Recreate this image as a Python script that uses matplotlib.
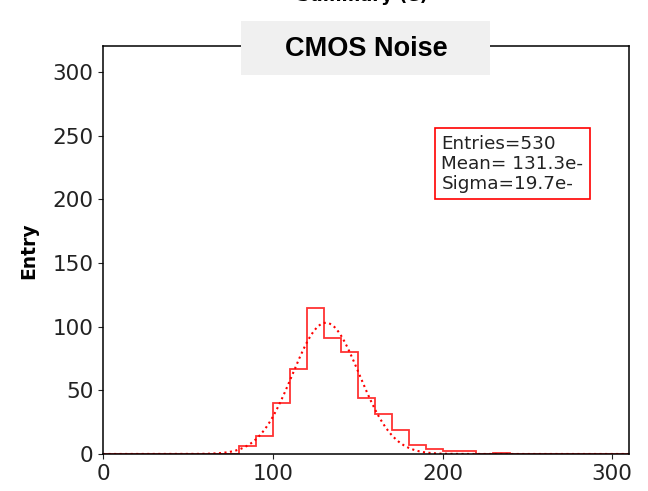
import numpy as np
import matplotlib.pyplot as plt
from matplotlib.patches import Rectangle

# histogram of CMOS noise (e-), 10 e- bins
bin_lo = [80, 90, 100, 110, 120, 130, 140, 150, 160, 170, 180, 190, 200, 210, 220, 230]
counts = [6, 14, 40, 67, 115, 91, 80, 44, 31, 19, 7, 4, 2, 2, 0, 1]
bin_w = 10
x_max = 310

# gaussian fit shown in the stats box
n_entries = 530
mean = 131.3
sigma = 19.7
peak = 103

edges = np.arange(0, x_max + bin_w, bin_w)
h = np.zeros(len(edges) - 1)
for lo, c in zip(bin_lo, counts):
    h[lo // bin_w] = c

fig = plt.figure(figsize=(6.48, 4.91), dpi=100)
ax = fig.add_axes([0.159, 0.0754, 0.812, 0.830])

ax.stairs(h, edges, color='red', lw=1.3, alpha=0.8)
xs = np.linspace(0, x_max, 400)
ax.plot(xs, peak * np.exp(-0.5 * ((xs - mean) / sigma) ** 2), ':', color='red', lw=1.5)

ax.set_xlim(0, x_max)
ax.set_ylim(0, 320)
ax.set_xticks([0, 100, 200, 300])
ax.set_yticks([0, 50, 100, 150, 200, 250, 300])
ax.tick_params(labelsize=15.5, colors='#222222', labelcolor='#222222')
for s in ax.spines.values():
    s.set_linewidth(1.1)
ax.set_ylabel('Entry', fontsize=13.5, fontweight='bold', labelpad=10)

ax.text(0.643, 0.783, 'Entries=%d\nMean= %.1fe-\nSigma=%.1fe-' % (n_entries, mean, sigma),
        transform=ax.transAxes, fontsize=13.2, va='top', ha='left', linespacing=1.15,
        color='#222222',
        bbox=dict(boxstyle='square,pad=0.35', fc='white', ec='red', lw=1.2))

# title, mostly cropped off at the top of the picture
fig.text(0.56, 1 - 1 / 491, 'Summary (e)', fontsize=13, fontweight='bold',
         ha='center', va='baseline')

# grey label box over the top of the frame
W, H = 648, 491
fig.patches.append(Rectangle((241 / W, 1 - 75 / H), 249 / W, 54 / H,
                             transform=fig.transFigure, fc='#f0f0f0', ec='none', zorder=5))
fig.text(366 / W, 1 - 49.5 / H, 'CMOS Noise', fontsize=19.5, fontweight='bold',
         family=['Liberation Sans', 'DejaVu Sans'], ha='center', va='center', zorder=6)

fig.savefig('out.png', dpi=100)
